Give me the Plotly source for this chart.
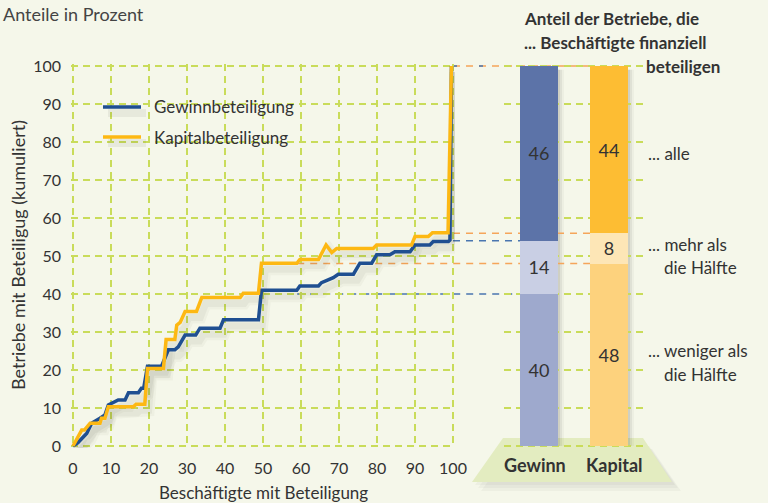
import plotly.graph_objects as go

# ---------------- data ----------------
gewinn_x = [0, 1.3, 3.6, 4.9, 7.1, 8.4, 9.3, 10, 11.9, 13.7, 14.6, 17.2, 18, 18.6, 19.6,
            23.3, 25.1, 26.8, 27.7, 29.5, 32.3, 33.4, 38.7, 39.6, 48.8, 49.6, 58.9, 59.7,
            64.6, 65.4, 67.2, 68.5, 69.8, 73.8, 75.5, 78.6, 79.9, 83.4, 84.7, 88.7, 90,
            93.9, 94.8, 98.8, 99.2, 99.6]
gewinn_y = [0, 0.9, 3.3, 6, 7.3, 8.2, 10.8, 11.2, 12.1, 12.1, 14, 14, 15.2, 15.2, 21,
            21, 25.3, 25.3, 26.1, 29.2, 29.2, 31, 31, 33.2, 33.2, 41, 41, 42.1,
            42.1, 43, 43.7, 44.3, 45.2, 45.2, 48.1, 48.1, 50.3, 50.3, 51.1, 51.1, 52.9,
            52.9, 53.8, 53.8, 54.2, 100]

kapital_x = [0, 2.3, 3.0, 4.5, 7.1, 7.5, 8.4, 9.3, 15.9, 16.6, 18.9, 19.6, 23.8, 24.5,
             26.8, 27.3, 28.2, 29.5, 32.5, 33.9, 44, 44.8, 48.8, 49.6, 58.9, 59.7, 64.6,
             66.6, 68.1, 69.4, 79, 79.9, 89.1, 90, 93.5, 94.6, 98.7, 99.6]
kapital_y = [0, 4.2, 4.2, 6, 6, 7.3, 7.3, 10.3, 10.3, 11, 11, 20.4, 20.4, 28,
             28, 31.8, 32.5, 35.4, 35.4, 39.1, 39.1, 40.2, 40.2, 48.1, 48.1, 49.1, 49.1,
             52.9, 50.9, 52, 52, 52.9, 52.9, 55.1, 55.1, 56.1, 56.1, 100]

bar_categories = ["Gewinn", "Kapital"]
share_weniger = [40, 48]   # ... weniger als die Hälfte
share_mehr = [14, 8]       # ... mehr als die Hälfte
share_alle = [46, 44]      # ... alle

x_ticks = [0, 10, 20, 30, 40, 50, 60, 70, 80, 90, 100]
y_ticks = [0, 10, 20, 30, 40, 50, 60, 70, 80, 90, 100]

# ---------------- style ----------------
W, H = 768, 503
BG = "#f5f7ea"
TXT = "#333333"
FONT = "Lato"
BLUE = "#1f4f91"
YELLOW = "#fdb813"
GRID = "#c9dc5a"

def PX(p):
    return p / W

def PY(p):
    return 1 - p / H

# pixel geometry of the main plot
X0PIX, UNIT = 73.0, 3.8
Y0PIX = 446.0

def xdata_to_pix(v):
    return X0PIX + UNIT * v

xr = [-0.5, 100.5]
yr = [-0.5, 100.5]
xdom = [PX(X0PIX + UNIT * xr[0]), PX(X0PIX + UNIT * xr[1])]
ydom = [PY(Y0PIX - UNIT * yr[0]), PY(Y0PIX - UNIT * yr[1])]

fig = go.Figure()

# soft shadows of lines
for xs, ys in [(gewinn_x, gewinn_y), (kapital_x, kapital_y)]:
    for w, a in [(12, 0.035), (7, 0.05)]:
        fig.add_trace(go.Scatter(
            x=[v + 1.0 for v in xs], y=[v - 1.6 for v in ys], mode="lines",
            line=dict(color=f"rgba(60,60,40,{a})", width=w), hoverinfo="skip",
            showlegend=False, xaxis="x", yaxis="y"))

fig.add_trace(go.Scatter(x=gewinn_x, y=gewinn_y, mode="lines", name="Gewinnbeteiligung",
                         line=dict(color=BLUE, width=3.5), showlegend=False))
fig.add_trace(go.Scatter(x=kapital_x, y=kapital_y, mode="lines", name="Kapitalbeteiligung",
                         line=dict(color=YELLOW, width=3.5), showlegend=False))

# stacked bars (own x axis, shared y axis)
bar_x = [0, 1]
seg_colors = [
    (share_weniger, ["#9ea9cd", "#fdd27d"]),
    (share_mehr, ["#c9cfe4", "#fde6b6"]),
    (share_alle, ["#5c73a8", "#fdbd33"]),
]
for vals, cols in seg_colors:
    fig.add_trace(go.Bar(
        x=bar_x, y=vals, marker=dict(color=cols, line=dict(width=0)),
        width=38 / 70, text=[str(v) for v in vals], textposition="inside",
        insidetextanchor="middle", textangle=0, constraintext="none",
        textfont=dict(family=FONT, size=18, color=TXT),
        xaxis="x2", yaxis="y", showlegend=False, hoverinfo="skip"))

shapes = []
annotations = []

# platform shadow + platform
for i, a in enumerate([0.04, 0.04, 0.04]):
    d = 3 + 3 * i
    shapes.append(dict(
        type="path", xref="paper", yref="paper", layer="below",
        path=(f"M{PX(503+d)},{PY(440+d)} L{PX(643+d)},{PY(440+d)} "
              f"L{PX(672+d)},{PY(482+d)} L{PX(472+d)},{PY(482+d)} Z"),
        fillcolor=f"rgba(60,60,40,{a})", line=dict(width=0)))
shapes.append(dict(
    type="path", xref="paper", yref="paper", layer="below",
    path=(f"M{PX(503)},{PY(438)} L{PX(643)},{PY(438)} "
          f"L{PX(672)},{PY(482)} L{PX(472)},{PY(482)} Z"),
    fillcolor="#e3ecc0", line=dict(width=0)))

# bar shadows
for bx in [558, 628]:
    for i, a in enumerate([0.10, 0.07, 0.04]):
        shapes.append(dict(
            type="rect", xref="paper", yref="y", layer="below",
            x0=PX(bx), x1=PX(bx + 2 + 2 * i), y0=0, y1=99,
            fillcolor=f"rgba(60,60,40,{a})", line=dict(width=0)))

# dashed connectors
g_low = share_weniger[0]
g_mid = share_weniger[0] + share_mehr[0]
k_low = share_weniger[1]
k_mid = share_weniger[1] + share_mehr[1]
ORANGE_D = "#f5a55a"
BLUE_D = "#4a76b0"
conn = [
    (59.0, 520, g_low, BLUE_D, "7px,6px"),
    (100.0, 520, g_mid, BLUE_D, "7px,6px"),
    (59.0, 590, k_low, ORANGE_D, "7px,6px"),
    (100.0, 590, k_mid, ORANGE_D, "7px,6px"),
    (100.0, 590, 100, ORANGE_D, "7px,6px"),
    (100.0, 520, 100, BLUE_D, "4px,22px"),
]
for xs, xe, yv, col, dash in conn:
    shapes.append(dict(
        type="line", xref="paper", yref="y", layer="below",
        x0=PX(xdata_to_pix(xs)), x1=PX(xe), y0=yv, y1=yv,
        line=dict(color=col, width=1.5, dash=dash)))

# legend (manual)
for yy, col, label in [(107, BLUE, "Gewinnbeteiligung"), (137, YELLOW, "Kapitalbeteiligung")]:
    shapes.append(dict(type="line", xref="paper", yref="paper",
                       x0=PX(108), x1=PX(146), y0=PY(yy + 6), y1=PY(yy + 6),
                       line=dict(color="rgba(60,60,40,0.07)", width=8)))
    shapes.append(dict(type="line", xref="paper", yref="paper",
                       x0=PX(103), x1=PX(141), y0=PY(yy), y1=PY(yy),
                       line=dict(color=col, width=3.5)))
    annotations.append(dict(x=PX(152), y=PY(yy), xref="paper", yref="paper",
                            text=label, showarrow=False, xanchor="left", yanchor="middle",
                            font=dict(family=FONT, size=17, color=TXT)))

def txt(x, y, s, anchor="left", size=17, bold=False, color=TXT, angle=0):
    annotations.append(dict(
        x=PX(x), y=PY(y), xref="paper", yref="paper",
        text=f"<b>{s}</b>" if bold else s, showarrow=False,
        xanchor=anchor, yanchor="middle", textangle=angle,
        font=dict(family=FONT, size=size, color=color)))

txt(1, 14, "Anteile in Prozent", size=18, color="#444444")
txt(18, 255, "Betriebe mit Beteiligug (kumuliert)", anchor="center", angle=-90, size=18)
txt(263, 492, "Beschäftigte mit Beteiligung", anchor="center")

txt(522, 18, "Anteil der Betriebe, die", bold=True)
txt(522, 43, "... Beschäftigte finanziell", bold=True)
txt(644, 66, "beteiligen", bold=True)

txt(646, 153, "... alle")
txt(646, 244, "... mehr als")
txt(662, 267, "die Hälfte")
txt(646, 350, "... weniger als")
txt(662, 374, "die Hälfte")

txt(535, 465, "Gewinn", anchor="center", bold=True, size=18)
txt(614, 465, "Kapital", anchor="center", bold=True, size=18)

axis_font = dict(family=FONT, size=16, color=TXT)

fig.update_layout(
    width=W, height=H,
    margin=dict(l=0, r=0, t=0, b=0, autoexpand=False),
    paper_bgcolor=BG, plot_bgcolor=BG,
    barmode="stack", bargap=0,
    showlegend=False,
    xaxis=dict(domain=xdom, range=xr, tickvals=x_ticks, ticktext=[str(t) for t in x_ticks],
               showgrid=True, gridcolor=GRID, griddash="7px,5px", gridwidth=1.5,
               zeroline=False, showline=False, ticks="", tickfont=axis_font,
               ticklabelstandoff=9, fixedrange=True, automargin=False),
    yaxis=dict(domain=ydom, range=yr, tickvals=y_ticks, ticktext=[str(t) for t in y_ticks],
               showgrid=True, gridcolor=GRID, griddash="7px,5px", gridwidth=1.5,
               zeroline=False, showline=False, ticks="", tickfont=axis_font,
               ticklabelstandoff=9, fixedrange=True, automargin=False),
    xaxis2=dict(domain=[PX(504), PX(644)], range=[-0.5, 1.5], anchor="y",
                visible=False, fixedrange=True, automargin=False),
    shapes=shapes,
    annotations=annotations,
    font=dict(family=FONT, color=TXT),
)

fig.write_html(
    "out.html",
    config={"displayModeBar": False, "staticPlot": True},
    post_script=("document.body.style.margin='0';"
                 "document.body.style.overflow='hidden';"
                 f"document.body.style.background='{BG}';"),
)
